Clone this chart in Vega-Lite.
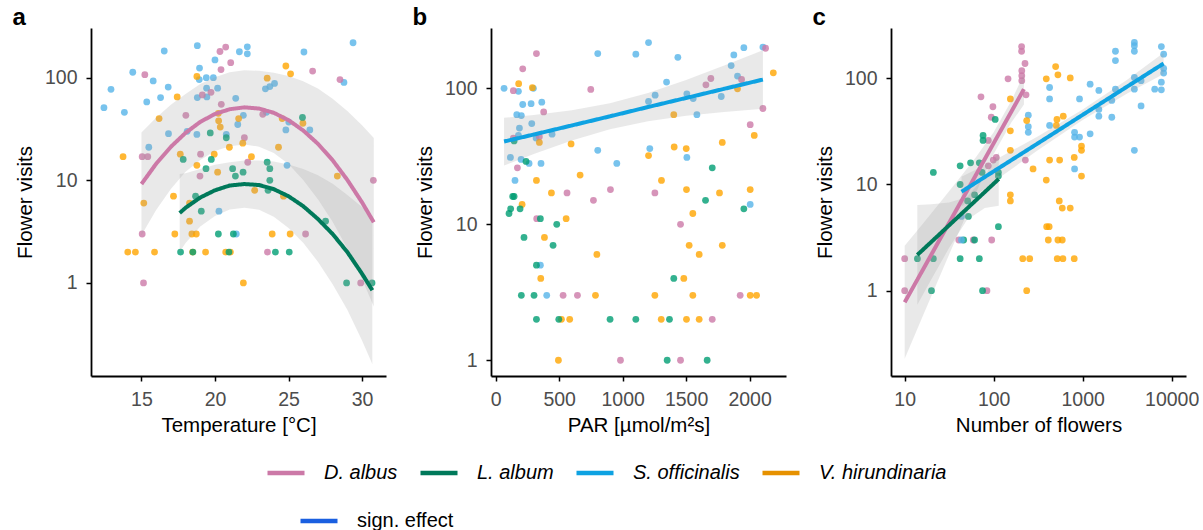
{
"$schema": "https://vega.github.io/schema/vega-lite/v6.json",
"padding": {"left": 12, "top": 6, "right": 0, "bottom": 0},
"background": "white",
"spacing": 26,
"config": {
  "view": {"stroke": null},
  "font": "Liberation Sans",
  "axis": {"grid": false, "domainColor": "black", "domainWidth": 1.8, "tickColor": "black", "tickWidth": 1.5, "tickSize": 5, "labelColor": "#4D4D4D", "labelFontSize": 19.5, "labelFont": "Liberation Sans", "labelPadding": 9, "titleFont": "Liberation Sans", "titleFontSize": 20.5, "titleFontWeight": "normal", "titleColor": "black", "titlePadding": 7},
  "axisY": {"labelPadding": 9, "titlePadding": 9},
  "title": {"anchor": "start", "frame": "bounds", "fontSize": 24, "fontWeight": "bold", "font": "Liberation Sans", "color": "black", "baseline": "alphabetic", "offset": -2, "dx": -3}
},
"datasets": {
"ptsA": [
{"s":"S. officinalis","x":12.45,"y":51},{"s":"S. officinalis","x":12.93,"y":77},{"s":"S. officinalis","x":13.84,"y":46},{"s":"S. officinalis","x":14.41,"y":113},{"s":"S. officinalis","x":15.36,"y":58},{"s":"S. officinalis","x":15.5,"y":21},{"s":"S. officinalis","x":15.8,"y":93},{"s":"S. officinalis","x":16.3,"y":64},{"s":"S. officinalis","x":16.55,"y":182},{"s":"S. officinalis","x":16.82,"y":81},{"s":"S. officinalis","x":16.84,"y":28.5},{"s":"S. officinalis","x":18.11,"y":30},{"s":"S. officinalis","x":18.8,"y":205},{"s":"S. officinalis","x":18.77,"y":28},{"s":"S. officinalis","x":18.8,"y":64},{"s":"S. officinalis","x":18.95,"y":124},{"s":"S. officinalis","x":18.93,"y":96},{"s":"S. officinalis","x":19.41,"y":100},{"s":"S. officinalis","x":19.43,"y":79},{"s":"S. officinalis","x":19.45,"y":65},{"s":"S. officinalis","x":19.89,"y":100},{"s":"S. officinalis","x":20.0,"y":149},{"s":"S. officinalis","x":20.18,"y":79},{"s":"S. officinalis","x":20.27,"y":5},{"s":"S. officinalis","x":20.77,"y":28},{"s":"S. officinalis","x":21.41,"y":63},{"s":"S. officinalis","x":21.55,"y":35},{"s":"S. officinalis","x":21.45,"y":3},{"s":"S. officinalis","x":21.66,"y":179},{"s":"S. officinalis","x":21.93,"y":43},{"s":"S. officinalis","x":22.2,"y":200},{"s":"S. officinalis","x":22.2,"y":171},{"s":"S. officinalis","x":23.43,"y":78},{"s":"S. officinalis","x":23.73,"y":82},{"s":"S. officinalis","x":24.05,"y":88},{"s":"S. officinalis","x":23.5,"y":46},{"s":"S. officinalis","x":25.02,"y":37},{"s":"S. officinalis","x":24.82,"y":31},{"s":"S. officinalis","x":24.9,"y":14},{"s":"S. officinalis","x":26.05,"y":178},{"s":"S. officinalis","x":26.45,"y":31},{"s":"S. officinalis","x":28.77,"y":90},{"s":"S. officinalis","x":29.39,"y":219},
{"s":"D. albus","x":15.23,"y":107},{"s":"D. albus","x":15.05,"y":17},{"s":"D. albus","x":15.43,"y":17},{"s":"D. albus","x":15.05,"y":3},{"s":"D. albus","x":15.14,"y":1},{"s":"D. albus","x":18.02,"y":43},{"s":"D. albus","x":19.02,"y":18},{"s":"D. albus","x":18.98,"y":11},{"s":"D. albus","x":19.14,"y":68},{"s":"D. albus","x":19.73,"y":72},{"s":"D. albus","x":20.34,"y":180},{"s":"D. albus","x":20.73,"y":199},{"s":"D. albus","x":20.41,"y":120},{"s":"D. albus","x":20.43,"y":55},{"s":"D. albus","x":21.07,"y":140},{"s":"D. albus","x":22.0,"y":26},{"s":"D. albus","x":22.23,"y":15},{"s":"D. albus","x":23.25,"y":44},{"s":"D. albus","x":23.57,"y":2},{"s":"D. albus","x":26.16,"y":3},{"s":"D. albus","x":26.64,"y":116},{"s":"D. albus","x":28.5,"y":96},{"s":"D. albus","x":29.91,"y":1},{"s":"D. albus","x":30.77,"y":10},
{"s":"V. hirundinaria","x":13.75,"y":17},{"s":"V. hirundinaria","x":14.07,"y":2},{"s":"V. hirundinaria","x":14.59,"y":2},{"s":"V. hirundinaria","x":15.16,"y":6},{"s":"V. hirundinaria","x":15.89,"y":2},{"s":"V. hirundinaria","x":16.2,"y":40},{"s":"V. hirundinaria","x":17.18,"y":7},{"s":"V. hirundinaria","x":17.27,"y":3},{"s":"V. hirundinaria","x":17.43,"y":65},{"s":"V. hirundinaria","x":17.64,"y":18},{"s":"V. hirundinaria","x":18.27,"y":6},{"s":"V. hirundinaria","x":18.27,"y":4},{"s":"V. hirundinaria","x":18.43,"y":3},{"s":"V. hirundinaria","x":18.73,"y":3},{"s":"V. hirundinaria","x":18.48,"y":2},{"s":"V. hirundinaria","x":18.77,"y":103},{"s":"V. hirundinaria","x":18.77,"y":14},{"s":"V. hirundinaria","x":19.36,"y":2},{"s":"V. hirundinaria","x":19.95,"y":18},{"s":"V. hirundinaria","x":20.18,"y":12},{"s":"V. hirundinaria","x":20.23,"y":45},{"s":"V. hirundinaria","x":20.25,"y":38},{"s":"V. hirundinaria","x":20.36,"y":33},{"s":"V. hirundinaria","x":20.98,"y":21},{"s":"V. hirundinaria","x":20.73,"y":2},{"s":"V. hirundinaria","x":21.05,"y":2},{"s":"V. hirundinaria","x":21.61,"y":40},{"s":"V. hirundinaria","x":21.89,"y":23},{"s":"V. hirundinaria","x":21.93,"y":1},{"s":"V. hirundinaria","x":22.48,"y":17},{"s":"V. hirundinaria","x":22.7,"y":8},{"s":"V. hirundinaria","x":23.55,"y":99},{"s":"V. hirundinaria","x":23.89,"y":3},{"s":"V. hirundinaria","x":24.32,"y":21},{"s":"V. hirundinaria","x":24.57,"y":40},{"s":"V. hirundinaria","x":24.66,"y":7},{"s":"V. hirundinaria","x":24.82,"y":130},{"s":"V. hirundinaria","x":25.14,"y":109},{"s":"V. hirundinaria","x":25.11,"y":3},{"s":"V. hirundinaria","x":25.98,"y":36},{"s":"V. hirundinaria","x":28.32,"y":11},
{"s":"L. album","x":17.66,"y":2},{"s":"L. album","x":17.84,"y":16},{"s":"L. album","x":18.5,"y":2},{"s":"L. album","x":18.68,"y":7},{"s":"L. album","x":19.07,"y":5},{"s":"L. album","x":19.39,"y":13},{"s":"L. album","x":19.68,"y":29},{"s":"L. album","x":19.75,"y":16},{"s":"L. album","x":20.23,"y":3},{"s":"L. album","x":20.77,"y":26},{"s":"L. album","x":21.2,"y":13},{"s":"L. album","x":21.39,"y":11},{"s":"L. album","x":21.25,"y":3},{"s":"L. album","x":20.95,"y":2},{"s":"L. album","x":21.91,"y":12},{"s":"L. album","x":23.55,"y":15},{"s":"L. album","x":23.73,"y":13},{"s":"L. album","x":23.73,"y":10},{"s":"L. album","x":23.61,"y":8},{"s":"L. album","x":24.11,"y":2},{"s":"L. album","x":25.05,"y":2},{"s":"L. album","x":25.95,"y":41},{"s":"L. album","x":27.52,"y":4},{"s":"L. album","x":28.95,"y":1},{"s":"L. album","x":30.68,"y":1}
],
"ptsB": [
{"s":"S. officinalis","x":66,"y":100},{"s":"S. officinalis","x":116,"y":31},{"s":"S. officinalis","x":152,"y":21},{"s":"S. officinalis","x":166,"y":64},{"s":"S. officinalis","x":179,"y":95},{"s":"S. officinalis","x":187,"y":51},{"s":"S. officinalis","x":202,"y":63},{"s":"S. officinalis","x":213,"y":76},{"s":"S. officinalis","x":200,"y":30},{"s":"S. officinalis","x":179,"y":45},{"s":"S. officinalis","x":279,"y":77},{"s":"S. officinalis","x":284,"y":55},{"s":"S. officinalis","x":297,"y":100},{"s":"S. officinalis","x":263,"y":28},{"s":"S. officinalis","x":318,"y":43},{"s":"S. officinalis","x":357,"y":28},{"s":"S. officinalis","x":363,"y":79},{"s":"S. officinalis","x":352,"y":5},{"s":"S. officinalis","x":402,"y":3},{"s":"S. officinalis","x":444,"y":46},{"s":"S. officinalis","x":804,"y":180},{"s":"S. officinalis","x":804,"y":35},{"s":"S. officinalis","x":954,"y":28},{"s":"S. officinalis","x":1104,"y":178},{"s":"S. officinalis","x":1204,"y":217},{"s":"S. officinalis","x":1204,"y":80},{"s":"S. officinalis","x":1214,"y":36},{"s":"S. officinalis","x":1256,"y":89},{"s":"S. officinalis","x":1346,"y":111},{"s":"S. officinalis","x":1435,"y":169},{"s":"S. officinalis","x":1506,"y":91},{"s":"S. officinalis","x":1506,"y":31},{"s":"S. officinalis","x":1556,"y":84},{"s":"S. officinalis","x":1585,"y":64},{"s":"S. officinalis","x":1777,"y":87},{"s":"S. officinalis","x":1855,"y":147},{"s":"S. officinalis","x":1876,"y":176},{"s":"S. officinalis","x":1905,"y":123},{"s":"S. officinalis","x":1955,"y":199},{"s":"S. officinalis","x":2005,"y":14},{"s":"S. officinalis","x":2105,"y":201},
{"s":"D. albus","x":139,"y":96},{"s":"D. albus","x":139,"y":43},{"s":"D. albus","x":171,"y":26},{"s":"D. albus","x":213,"y":139},{"s":"D. albus","x":321,"y":180},{"s":"D. albus","x":323,"y":11},{"s":"D. albus","x":344,"y":44},{"s":"D. albus","x":378,"y":67},{"s":"D. albus","x":531,"y":3},{"s":"D. albus","x":562,"y":17},{"s":"D. albus","x":644,"y":3},{"s":"D. albus","x":749,"y":98},{"s":"D. albus","x":770,"y":15},{"s":"D. albus","x":904,"y":18},{"s":"D. albus","x":983,"y":1},{"s":"D. albus","x":1254,"y":17},{"s":"D. albus","x":1456,"y":10},{"s":"D. albus","x":1456,"y":1},{"s":"D. albus","x":1656,"y":106},{"s":"D. albus","x":1695,"y":118},{"s":"D. albus","x":1706,"y":2},{"s":"D. albus","x":1926,"y":3},{"s":"D. albus","x":1937,"y":116},{"s":"D. albus","x":2005,"y":54},{"s":"D. albus","x":2105,"y":71},{"s":"D. albus","x":2126,"y":197},
{"s":"V. hirundinaria","x":181,"y":108},{"s":"V. hirundinaria","x":289,"y":101},{"s":"V. hirundinaria","x":208,"y":14},{"s":"V. hirundinaria","x":321,"y":21},{"s":"V. hirundinaria","x":344,"y":40},{"s":"V. hirundinaria","x":355,"y":4},{"s":"V. hirundinaria","x":384,"y":8},{"s":"V. hirundinaria","x":439,"y":17},{"s":"V. hirundinaria","x":494,"y":1},{"s":"V. hirundinaria","x":518,"y":2},{"s":"V. hirundinaria","x":583,"y":2},{"s":"V. hirundinaria","x":555,"y":11},{"s":"V. hirundinaria","x":594,"y":39},{"s":"V. hirundinaria","x":665,"y":23},{"s":"V. hirundinaria","x":786,"y":3},{"s":"V. hirundinaria","x":797,"y":6},{"s":"V. hirundinaria","x":1204,"y":32},{"s":"V. hirundinaria","x":1254,"y":3},{"s":"V. hirundinaria","x":1304,"y":2},{"s":"V. hirundinaria","x":1306,"y":21},{"s":"V. hirundinaria","x":1403,"y":64},{"s":"V. hirundinaria","x":1406,"y":37},{"s":"V. hirundinaria","x":1482,"y":4},{"s":"V. hirundinaria","x":1501,"y":36},{"s":"V. hirundinaria","x":1503,"y":18},{"s":"V. hirundinaria","x":1503,"y":2},{"s":"V. hirundinaria","x":1524,"y":7},{"s":"V. hirundinaria","x":1553,"y":12},{"s":"V. hirundinaria","x":1553,"y":3},{"s":"V. hirundinaria","x":1603,"y":6},{"s":"V. hirundinaria","x":1603,"y":2},{"s":"V. hirundinaria","x":1763,"y":17},{"s":"V. hirundinaria","x":1785,"y":40},{"s":"V. hirundinaria","x":1785,"y":7},{"s":"V. hirundinaria","x":1905,"y":99},{"s":"V. hirundinaria","x":2005,"y":18},{"s":"V. hirundinaria","x":2005,"y":3},{"s":"V. hirundinaria","x":2037,"y":45},{"s":"V. hirundinaria","x":2055,"y":3},{"s":"V. hirundinaria","x":2187,"y":130},
{"s":"L. album","x":105,"y":12},{"s":"L. album","x":118,"y":13},{"s":"L. album","x":134,"y":16},{"s":"L. album","x":145,"y":16},{"s":"L. album","x":145,"y":41},{"s":"L. album","x":192,"y":13},{"s":"L. album","x":202,"y":3},{"s":"L. album","x":223,"y":8},{"s":"L. album","x":239,"y":29},{"s":"L. album","x":302,"y":3},{"s":"L. album","x":321,"y":5},{"s":"L. album","x":321,"y":2},{"s":"L. album","x":352,"y":11},{"s":"L. album","x":452,"y":7},{"s":"L. album","x":481,"y":10},{"s":"L. album","x":497,"y":2},{"s":"L. album","x":901,"y":2},{"s":"L. album","x":1104,"y":2},{"s":"L. album","x":1369,"y":2},{"s":"L. album","x":1351,"y":1},{"s":"L. album","x":1403,"y":4},{"s":"L. album","x":1653,"y":15},{"s":"L. album","x":1666,"y":1},{"s":"L. album","x":1706,"y":26},{"s":"L. album","x":1955,"y":13}
],
"ptsC": [
{"s":"D. albus","x":10,"y":2},{"s":"D. albus","x":10,"y":1},{"s":"D. albus","x":40.6,"y":3},{"s":"D. albus","x":59,"y":3},{"s":"D. albus","x":95,"y":3},{"s":"D. albus","x":84,"y":1},{"s":"D. albus","x":72,"y":67},{"s":"D. albus","x":98,"y":54},{"s":"D. albus","x":94,"y":43},{"s":"D. albus","x":87,"y":26},{"s":"D. albus","x":87,"y":15},{"s":"D. albus","x":99,"y":17},{"s":"D. albus","x":107,"y":18},{"s":"D. albus","x":145,"y":99},{"s":"D. albus","x":206,"y":199},{"s":"D. albus","x":206,"y":180},{"s":"D. albus","x":225,"y":138},{"s":"D. albus","x":207,"y":118},{"s":"D. albus","x":207,"y":106},{"s":"D. albus","x":207,"y":95},{"s":"D. albus","x":231,"y":70},{"s":"D. albus","x":227,"y":17},
{"s":"L. album","x":13.9,"y":2},{"s":"L. album","x":21,"y":2},{"s":"L. album","x":21,"y":13},{"s":"L. album","x":20,"y":1},{"s":"L. album","x":42,"y":15},{"s":"L. album","x":42,"y":10},{"s":"L. album","x":42,"y":2},{"s":"L. album","x":46,"y":3},{"s":"L. album","x":51,"y":7},{"s":"L. album","x":52,"y":5},{"s":"L. album","x":55,"y":16},{"s":"L. album","x":61,"y":3},{"s":"L. album","x":61,"y":8},{"s":"L. album","x":69,"y":16},{"s":"L. album","x":69,"y":2},{"s":"L. album","x":75,"y":1},{"s":"L. album","x":74,"y":13},{"s":"L. album","x":76,"y":29},{"s":"L. album","x":76,"y":26},{"s":"L. album","x":104,"y":41},{"s":"L. album","x":113,"y":13},{"s":"L. album","x":113,"y":12},{"s":"L. album","x":113,"y":4},
{"s":"S. officinalis","x":43.5,"y":3},{"s":"S. officinalis","x":43.5,"y":5},{"s":"S. officinalis","x":245,"y":45},{"s":"S. officinalis","x":245,"y":35},{"s":"S. officinalis","x":245,"y":31},{"s":"S. officinalis","x":425,"y":82},{"s":"S. officinalis","x":425,"y":64},{"s":"S. officinalis","x":425,"y":36},{"s":"S. officinalis","x":811,"y":31},{"s":"S. officinalis","x":811,"y":28},{"s":"S. officinalis","x":922,"y":28},{"s":"S. officinalis","x":811,"y":14},{"s":"S. officinalis","x":922,"y":64},{"s":"S. officinalis","x":1213,"y":88},{"s":"S. officinalis","x":1213,"y":30},{"s":"S. officinalis","x":1520,"y":77},{"s":"S. officinalis","x":1520,"y":51},{"s":"S. officinalis","x":1520,"y":44},{"s":"S. officinalis","x":2125,"y":62},{"s":"S. officinalis","x":2125,"y":43},{"s":"S. officinalis","x":2335,"y":180},{"s":"S. officinalis","x":2335,"y":147},{"s":"S. officinalis","x":2335,"y":79},{"s":"S. officinalis","x":3810,"y":218},{"s":"S. officinalis","x":3810,"y":203},{"s":"S. officinalis","x":3810,"y":180},{"s":"S. officinalis","x":3810,"y":102},{"s":"S. officinalis","x":3810,"y":79},{"s":"S. officinalis","x":3810,"y":21},{"s":"S. officinalis","x":4530,"y":95},{"s":"S. officinalis","x":4530,"y":55},{"s":"S. officinalis","x":6450,"y":79},{"s":"S. officinalis","x":7660,"y":199},{"s":"S. officinalis","x":7660,"y":92},{"s":"S. officinalis","x":7660,"y":78},{"s":"S. officinalis","x":8130,"y":169},{"s":"S. officinalis","x":8130,"y":124},{"s":"S. officinalis","x":8130,"y":112},
{"s":"V. hirundinaria","x":154,"y":64},{"s":"V. hirundinaria","x":154,"y":32},{"s":"V. hirundinaria","x":154,"y":21},{"s":"V. hirundinaria","x":154,"y":8},{"s":"V. hirundinaria","x":154,"y":7},{"s":"V. hirundinaria","x":212,"y":2},{"s":"V. hirundinaria","x":254,"y":2},{"s":"V. hirundinaria","x":235,"y":1},{"s":"V. hirundinaria","x":235,"y":40},{"s":"V. hirundinaria","x":277,"y":14},{"s":"V. hirundinaria","x":390,"y":99},{"s":"V. hirundinaria","x":390,"y":11},{"s":"V. hirundinaria","x":394,"y":4},{"s":"V. hirundinaria","x":420,"y":4},{"s":"V. hirundinaria","x":411,"y":3},{"s":"V. hirundinaria","x":425,"y":17},{"s":"V. hirundinaria","x":497,"y":129},{"s":"V. hirundinaria","x":527,"y":108},{"s":"V. hirundinaria","x":514,"y":41},{"s":"V. hirundinaria","x":506,"y":36},{"s":"V. hirundinaria","x":551,"y":17},{"s":"V. hirundinaria","x":546,"y":7},{"s":"V. hirundinaria","x":590,"y":6},{"s":"V. hirundinaria","x":527,"y":3},{"s":"V. hirundinaria","x":590,"y":3},{"s":"V. hirundinaria","x":518,"y":2},{"s":"V. hirundinaria","x":600,"y":2},{"s":"V. hirundinaria","x":605,"y":44},{"s":"V. hirundinaria","x":725,"y":101},{"s":"V. hirundinaria","x":725,"y":6},{"s":"V. hirundinaria","x":804,"y":18},{"s":"V. hirundinaria","x":804,"y":2},{"s":"V. hirundinaria","x":970,"y":23},{"s":"V. hirundinaria","x":970,"y":21},{"s":"V. hirundinaria","x":970,"y":12}
],
"fitA": [
{"s":"D. albus","e":"sign. effect","x":15,"y":9.2,"lo":2.92,"hi":29.2},{"s":"D. albus","e":"sign. effect","x":16,"y":14.5,"lo":5.13,"hi":40.7},{"s":"D. albus","e":"sign. effect","x":17,"y":21.2,"lo":8.24,"hi":54.5},{"s":"D. albus","e":"sign. effect","x":18,"y":29.0,"lo":12.1,"hi":69.5},{"s":"D. albus","e":"sign. effect","x":19,"y":37.1,"lo":15.8,"hi":86.9},{"s":"D. albus","e":"sign. effect","x":20,"y":44.3,"lo":19.3,"hi":101},{"s":"D. albus","e":"sign. effect","x":21,"y":49.3,"lo":21.5,"hi":113},{"s":"D. albus","e":"sign. effect","x":22,"y":51.4,"lo":22.4,"hi":118},{"s":"D. albus","e":"sign. effect","x":23,"y":50.0,"lo":21.3,"hi":117},{"s":"D. albus","e":"sign. effect","x":24,"y":45.5,"lo":18.5,"hi":112},{"s":"D. albus","e":"sign. effect","x":25,"y":38.6,"lo":14.4,"hi":104},{"s":"D. albus","e":"sign. effect","x":26,"y":30.6,"lo":10.1,"hi":92.5},{"s":"D. albus","e":"sign. effect","x":27,"y":22.7,"lo":6.55,"hi":78.7},{"s":"D. albus","e":"sign. effect","x":28,"y":15.7,"lo":3.94,"hi":62.5},{"s":"D. albus","e":"sign. effect","x":29,"y":10.1,"lo":2.17,"hi":47.4},{"s":"D. albus","e":"sign. effect","x":30,"y":6.1,"lo":1.09,"hi":34.4},{"s":"D. albus","e":"sign. effect","x":30.8,"y":3.9,"lo":0.59,"hi":25.8},
{"s":"L. album","e":"sign. effect","x":17.6,"y":4.8,"lo":2.0,"hi":11.5},{"s":"L. album","e":"sign. effect","x":18,"y":5.4,"lo":2.45,"hi":11.7},{"s":"L. album","e":"sign. effect","x":19,"y":6.8,"lo":3.55,"hi":12.9},{"s":"L. album","e":"sign. effect","x":20,"y":8.0,"lo":4.49,"hi":14.2},{"s":"L. album","e":"sign. effect","x":21,"y":8.9,"lo":5.21,"hi":15.0},{"s":"L. album","e":"sign. effect","x":22,"y":9.2,"lo":5.42,"hi":15.6},{"s":"L. album","e":"sign. effect","x":23,"y":9.0,"lo":5.16,"hi":15.6},{"s":"L. album","e":"sign. effect","x":24,"y":8.2,"lo":4.41,"hi":15.3},{"s":"L. album","e":"sign. effect","x":25,"y":7.0,"lo":3.44,"hi":14.3},{"s":"L. album","e":"sign. effect","x":26,"y":5.6,"lo":2.46,"hi":12.9},{"s":"L. album","e":"sign. effect","x":27,"y":4.2,"lo":1.61,"hi":11.2},{"s":"L. album","e":"sign. effect","x":28,"y":3.0,"lo":0.97,"hi":9.27},{"s":"L. album","e":"sign. effect","x":29,"y":2.0,"lo":0.547,"hi":7.21},{"s":"L. album","e":"sign. effect","x":30,"y":1.23,"lo":0.275,"hi":5.5},{"s":"L. album","e":"sign. effect","x":30.7,"y":0.85,"lo":0.162,"hi":4.46}
],
"fitB": [
{"s":"S. officinalis","e":"sign. effect","x":66,"y":40.6,"lo":27.1,"hi":60.7},{"s":"S. officinalis","e":"sign. effect","x":300,"y":45.7,"lo":32.8,"hi":63.6},{"s":"S. officinalis","e":"sign. effect","x":600,"y":53.3,"lo":41.3,"hi":68.9},{"s":"S. officinalis","e":"sign. effect","x":900,"y":62.2,"lo":50.0,"hi":77.5},{"s":"S. officinalis","e":"sign. effect","x":1200,"y":72.8,"lo":57.3,"hi":92.4},{"s":"S. officinalis","e":"sign. effect","x":1500,"y":84.9,"lo":62.7,"hi":115},{"s":"S. officinalis","e":"sign. effect","x":1800,"y":99.1,"lo":67.0,"hi":147},{"s":"S. officinalis","e":"sign. effect","x":2105,"y":115.9,"lo":70.8,"hi":190}
],
"fitC": [
{"s":"D. albus","e":"sign. effect","x":10,"y":0.776,"lo":0.228,"hi":2.65},{"s":"D. albus","e":"sign. effect","x":15.85,"y":1.549,"lo":0.568,"hi":4.23},{"s":"D. albus","e":"sign. effect","x":25.1,"y":3.09,"lo":1.40,"hi":6.82},{"s":"D. albus","e":"sign. effect","x":39.8,"y":6.15,"lo":3.43,"hi":11.0},{"s":"D. albus","e":"sign. effect","x":63.1,"y":12.27,"lo":8.34,"hi":18.1},{"s":"D. albus","e":"sign. effect","x":100,"y":24.5,"lo":19.4,"hi":31.0},{"s":"D. albus","e":"sign. effect","x":158.5,"y":48.8,"lo":38.5,"hi":61.7},{"s":"D. albus","e":"sign. effect","x":218.8,"y":79.1,"lo":56.6,"hi":110},
{"s":"L. album","e":"sign. effect","x":13.87,"y":2.17,"lo":0.735,"hi":6.40},{"s":"L. album","e":"sign. effect","x":19.95,"y":2.88,"lo":1.28,"hi":6.51},{"s":"L. album","e":"sign. effect","x":31.6,"y":4.13,"lo":2.53,"hi":6.75},{"s":"L. album","e":"sign. effect","x":50.1,"y":5.92,"lo":4.62,"hi":7.57},{"s":"L. album","e":"sign. effect","x":79.4,"y":8.49,"lo":6.0,"hi":12.0},{"s":"L. album","e":"sign. effect","x":114,"y":11.27,"lo":6.31,"hi":20.1},
{"s":"S. officinalis","e":"sign. effect","x":43.55,"y":8.55,"lo":6.19,"hi":11.8},{"s":"S. officinalis","e":"sign. effect","x":100,"y":13.3,"lo":10.6,"hi":16.7},{"s":"S. officinalis","e":"sign. effect","x":316,"y":24.5,"lo":21.1,"hi":28.5},{"s":"S. officinalis","e":"sign. effect","x":1000,"y":45.3,"lo":40.4,"hi":50.8},{"s":"S. officinalis","e":"sign. effect","x":3162,"y":83.6,"lo":71.9,"hi":97.0},{"s":"S. officinalis","e":"sign. effect","x":8128,"y":138,"lo":110,"hi":174}
]
},
"hconcat": [
{
 "width": 295, "height": 348,
 "title": {"text": "a"},
 "layer": [
  {"data": {"name": "ptsA"}, "mark": {"type": "circle", "size": 46, "opacity": 0.8, "strokeWidth": 0, "clip": true},
   "encoding": {
    "x": {"field": "x", "type": "quantitative", "title": "Temperature [°C]", "scale": {"domain": [11.57, 31.63], "nice": false, "zero": false}, "axis": {"values": [15, 20, 25, 30]}},
    "y": {"field": "y", "type": "quantitative", "title": "Flower visits", "scale": {"type": "log", "domain": [0.124, 305], "nice": false}, "axis": {"values": [1, 10, 100], "format": "d"}},
    "fill": {"field": "s", "type": "nominal", "scale": {"domain": ["L. album", "D. albus", "S. officinalis", "V. hirundinaria"], "range": ["#009E73", "#CC79A7", "#56B4E9", "#FFA500"]}, "legend": null}}},
  {"data": {"name": "fitA"}, "mark": {"type": "area", "color": "#999999", "opacity": 0.22, "clip": true},
   "encoding": {
    "x": {"field": "x", "type": "quantitative", "title": "Temperature [°C]"},
    "y": {"field": "lo", "type": "quantitative", "title": "Flower visits"},
    "y2": {"field": "hi"},
    "detail": {"field": "s", "type": "nominal"}}},
  {"data": {"name": "fitA"}, "mark": {"type": "line", "strokeWidth": 4, "clip": true},
   "encoding": {
    "x": {"field": "x", "type": "quantitative", "title": "Temperature [°C]"},
    "y": {"field": "y", "type": "quantitative", "title": "Flower visits"},
    "color": {"field": "s", "type": "nominal", "scale": {"domain": ["D. albus", "L. album", "S. officinalis", "V. hirundinaria"], "range": ["#CC79A7", "#00795A", "#0EA2E2", "#E69100"]},
      "legend": {"title": null, "orient": "none", "legendX": 174, "legendY": 424, "direction": "horizontal", "symbolType": "stroke", "symbolSize": 1369, "symbolStrokeWidth": 4.5, "labelFontSize": 20, "labelFontStyle": "italic", "labelFont": "Liberation Sans", "labelColor": "black", "labelOffset": 17, "columnPadding": 13, "padding": 0}},
    "strokeDash": {"field": "e", "type": "nominal", "scale": {"domain": ["sign. effect"], "range": [[1, 0]]},
      "legend": {"title": null, "orient": "none", "legendX": 207, "legendY": 472, "direction": "horizontal", "symbolType": "stroke", "symbolSize": 1369, "symbolStrokeWidth": 4.5, "labelFontSize": 20, "labelFont": "Liberation Sans", "labelColor": "black", "labelOffset": 17, "padding": 0, "encode": {"symbols": {"update": {"stroke": {"value": "#1A5FE0"}}}}}}}}
 ]
},
{
 "width": 295, "height": 348,
 "title": {"text": "b"},
 "layer": [
  {"data": {"name": "ptsB"}, "mark": {"type": "circle", "size": 46, "opacity": 0.8, "strokeWidth": 0, "clip": true},
   "encoding": {
    "x": {"field": "x", "type": "quantitative", "title": "PAR [µmol/m²s]", "scale": {"domain": [-37, 2287], "nice": false, "zero": false}, "axis": {"values": [0, 500, 1000, 1500, 2000], "format": "d"}},
    "y": {"field": "y", "type": "quantitative", "title": "Flower visits", "scale": {"type": "log", "domain": [0.766, 277.5], "nice": false}, "axis": {"values": [1, 10, 100], "format": "d"}},
    "fill": {"field": "s", "type": "nominal", "scale": {"domain": ["L. album", "D. albus", "S. officinalis", "V. hirundinaria"], "range": ["#009E73", "#CC79A7", "#56B4E9", "#FFA500"]}, "legend": null}}},
  {"data": {"name": "fitB"}, "mark": {"type": "area", "color": "#999999", "opacity": 0.22, "clip": true},
   "encoding": {
    "x": {"field": "x", "type": "quantitative", "title": "PAR [µmol/m²s]"},
    "y": {"field": "lo", "type": "quantitative", "title": "Flower visits"},
    "y2": {"field": "hi"},
    "detail": {"field": "s", "type": "nominal"}}},
  {"data": {"name": "fitB"}, "mark": {"type": "line", "strokeWidth": 4, "clip": true},
   "encoding": {
    "x": {"field": "x", "type": "quantitative", "title": "PAR [µmol/m²s]"},
    "y": {"field": "y", "type": "quantitative", "title": "Flower visits"},
    "color": {"field": "s", "type": "nominal", "scale": {"domain": ["D. albus", "L. album", "S. officinalis", "V. hirundinaria"], "range": ["#CC79A7", "#00795A", "#0EA2E2", "#E69100"]},
      "legend": {"title": null, "orient": "none", "legendX": 174, "legendY": 424, "direction": "horizontal", "symbolType": "stroke", "symbolSize": 1369, "symbolStrokeWidth": 4.5, "labelFontSize": 20, "labelFontStyle": "italic", "labelFont": "Liberation Sans", "labelColor": "black", "labelOffset": 17, "columnPadding": 13, "padding": 0}},
    "strokeDash": {"field": "e", "type": "nominal", "scale": {"domain": ["sign. effect"], "range": [[1, 0]]},
      "legend": {"title": null, "orient": "none", "legendX": 207, "legendY": 472, "direction": "horizontal", "symbolType": "stroke", "symbolSize": 1369, "symbolStrokeWidth": 4.5, "labelFontSize": 20, "labelFont": "Liberation Sans", "labelColor": "black", "labelOffset": 17, "padding": 0, "encode": {"symbols": {"update": {"stroke": {"value": "#1A5FE0"}}}}}}}}
 ]
},
{
 "width": 295, "height": 348,
 "title": {"text": "c"},
 "layer": [
  {"data": {"name": "ptsC"}, "mark": {"type": "circle", "size": 46, "opacity": 0.8, "strokeWidth": 0, "clip": true},
   "encoding": {
    "x": {"field": "x", "type": "quantitative", "title": "Number of flowers", "scale": {"type": "log", "domain": [7.02, 14490], "nice": false}, "axis": {"values": [10, 100, 1000, 10000], "format": "d"}},
    "y": {"field": "y", "type": "quantitative", "title": "Flower visits", "scale": {"type": "log", "domain": [0.157, 298], "nice": false}, "axis": {"values": [1, 10, 100], "format": "d"}},
    "fill": {"field": "s", "type": "nominal", "scale": {"domain": ["L. album", "D. albus", "S. officinalis", "V. hirundinaria"], "range": ["#009E73", "#CC79A7", "#56B4E9", "#FFA500"]}, "legend": null}}},
  {"data": {"name": "fitC"}, "mark": {"type": "area", "color": "#999999", "opacity": 0.22, "clip": true},
   "encoding": {
    "x": {"field": "x", "type": "quantitative", "title": "Number of flowers"},
    "y": {"field": "lo", "type": "quantitative", "title": "Flower visits"},
    "y2": {"field": "hi"},
    "detail": {"field": "s", "type": "nominal"}}},
  {"data": {"name": "fitC"}, "mark": {"type": "line", "strokeWidth": 4, "clip": true},
   "encoding": {
    "x": {"field": "x", "type": "quantitative", "title": "Number of flowers"},
    "y": {"field": "y", "type": "quantitative", "title": "Flower visits"},
    "color": {"field": "s", "type": "nominal", "scale": {"domain": ["D. albus", "L. album", "S. officinalis", "V. hirundinaria"], "range": ["#CC79A7", "#00795A", "#0EA2E2", "#E69100"]},
      "legend": {"title": null, "orient": "none", "legendX": 174, "legendY": 424, "direction": "horizontal", "symbolType": "stroke", "symbolSize": 1369, "symbolStrokeWidth": 4.5, "labelFontSize": 20, "labelFontStyle": "italic", "labelFont": "Liberation Sans", "labelColor": "black", "labelOffset": 17, "columnPadding": 13, "padding": 0}},
    "strokeDash": {"field": "e", "type": "nominal", "scale": {"domain": ["sign. effect"], "range": [[1, 0]]},
      "legend": {"title": null, "orient": "none", "legendX": 207, "legendY": 472, "direction": "horizontal", "symbolType": "stroke", "symbolSize": 1369, "symbolStrokeWidth": 4.5, "labelFontSize": 20, "labelFont": "Liberation Sans", "labelColor": "black", "labelOffset": 17, "padding": 0, "encode": {"symbols": {"update": {"stroke": {"value": "#1A5FE0"}}}}}}}}
 ]
}
]
}
